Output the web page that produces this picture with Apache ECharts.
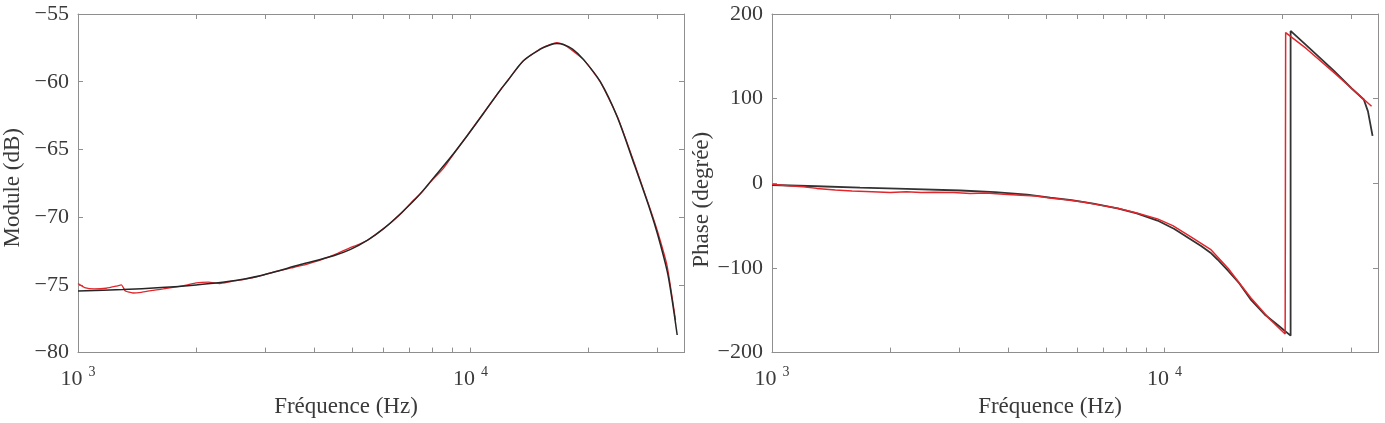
<!DOCTYPE html>
<html>
<head>
<meta charset="utf-8">
<script src="https://cdn.jsdelivr.net/npm/echarts@6/dist/echarts.min.js"></script>
<style>
  html, body { margin: 0; padding: 0; background: #fff; }
  #chart { width: 1385px; height: 423px; }
</style>
</head>
<body>
<div id="chart"></div>
<script>
// ---- Data ----
// Module (dB): fitted model (black)
const magFitFreq = [1000, 1300, 1630, 2000, 2410, 2930, 3690, 4480, 4950, 5470, 6010, 6630, 7330, 8050, 8890, 9830, 10790, 11920, 12420, 13640, 15070, 16000, 16600, 17300, 18200, 19390, 21420, 23660, 25990, 28710, 30000, 31720, 32600, 33630];
const magFitDb   = [-75.45, -75.35, -75.2, -75.0, -74.75, -74.3, -73.5, -72.85, -72.38, -71.7, -70.85, -69.75, -68.5, -67.1, -65.6, -63.95, -62.35, -60.6, -59.95, -58.45, -57.6, -57.27, -57.18, -57.27, -57.6, -58.35, -60.0, -62.6, -65.9, -69.5, -71.3, -74.0, -76.0, -78.7];
// Module (dB): measured (red)
const magMeasFreq = [1000, 1040, 1100, 1180, 1250, 1290, 1320, 1380, 1450, 1550, 1650, 1780, 1900, 2000, 2150, 2300, 2450, 2650, 2900, 3200, 3500, 3750, 4000, 4300, 4600, 4900, 5200, 5500, 5900, 6300, 6700, 7100, 7500, 8000, 8500, 9000, 9800, 10800, 12000, 13600, 15000, 16000, 16600, 17300, 19400, 21400, 23700, 26000, 28700, 30000, 31700, 33300];
const magMeasDb   = [-74.9, -75.2, -75.3, -75.25, -75.1, -75.0, -75.45, -75.6, -75.55, -75.4, -75.3, -75.15, -75.0, -74.85, -74.8, -74.9, -74.75, -74.6, -74.35, -74.0, -73.75, -73.55, -73.3, -73.0, -72.65, -72.3, -72.0, -71.65, -71.0, -70.35, -69.65, -68.85, -68.2, -67.25, -66.45, -65.45, -64.0, -62.3, -60.5, -58.5, -57.6, -57.25, -57.12, -57.25, -58.35, -60.0, -62.6, -65.8, -69.4, -71.1, -73.6, -77.6];
// Phase (degree): fitted model (black)
const phaseFitFreq = [1000, 1300, 1676, 2200, 3020, 3700, 4470, 5120, 5800, 6590, 7590, 8500, 9600, 10600, 11650, 12400, 13100, 13650, 14500, 15500, 16570, 18000, 19500, 20960, 20960, 23000, 27000, 30000, 32200, 33000, 33900];
const phaseFitDeg  = [-2, -3.5, -5, -6.5, -8.5, -10.5, -13.5, -17, -20, -24, -29.5, -35.5, -44, -54, -66, -74, -82, -90, -103, -118, -137, -155, -168, -180, 180, 163, 133, 112, 99, 85, 56];
// Phase (degree): measured (red)
const phaseMeasFreq = [1000, 1100, 1200, 1300, 1450, 1600, 1800, 2000, 2200, 2400, 2600, 2900, 3200, 3500, 3900, 4300, 4700, 5100, 5600, 6200, 6800, 7600, 8500, 9600, 10500, 11650, 13100, 14500, 16570, 18500, 20300, 20360, 23000, 27000, 30000, 33700];
const phaseMeasDeg  = [-1, -3, -4, -6, -8, -9, -10, -11, -10, -11, -10.5, -11, -12, -11.5, -13, -14, -15, -17.5, -19.5, -22, -25.5, -29.5, -35, -42, -50, -63, -78, -100, -135, -160, -178, 178, 159, 131, 112, 91];

// Axis ticks
const xTickValues  = [1000, 2000, 3000, 4000, 5000, 6000, 7000, 8000, 9000, 10000, 20000, 30000];
const xLabelValues = [1000, 10000];
const xRange = [1000, 35000];
const magRange = [-80, -55];
const magStep = 5;
const phaseRange = [-200, 200];
const phaseStep = 100;

const FONT = '"Liberation Serif", "DejaVu Serif", serif';
const TXT = '#3a3a3a';
const AXC = '#8f8f8f';

function yFmt(v) { return v < 0 ? '\u2212' + Math.abs(v) : String(v); }
function xFmt(v) {
  const e = Math.round(Math.log10(v));
  return '{b|10}{s|' + e + '}';
}
const zipXY = (xs, ys) => xs.map((x, i) => [x, ys[i]]);

function xAxisMain(gridIndex) {
  return {
    type: 'log', logBase: 10, gridIndex, position: 'bottom',
    min: xRange[0], max: xRange[1],
    name: 'Fréquence (Hz)', nameLocation: 'middle', nameGap: 34,
    nameTextStyle: { fontFamily: FONT, fontSize: 23, color: TXT, padding: [0, gridIndex === 0 ? 70 : 50, 0, 0] },
    axisLine: { show: true, onZero: false, lineStyle: { color: AXC, width: 1 } },
    axisTick: { show: true, inside: true, length: 5, lineStyle: { color: AXC }, customValues: xTickValues },
    axisLabel: {
      show: true, margin: 13, customValues: xLabelValues, formatter: xFmt,
      rich: {
        b: { fontFamily: FONT, fontSize: 22, color: TXT },
        s: { fontFamily: FONT, fontSize: 14, color: TXT, padding: [0, 0, 13, 6] }
      }
    },
    splitLine: { show: false }, minorTick: { show: false }
  };
}
function xAxisTop(gridIndex) {
  return {
    type: 'log', logBase: 10, gridIndex, position: 'top',
    min: xRange[0], max: xRange[1],
    axisLine: { show: true, onZero: false, lineStyle: { color: AXC, width: 1 } },
    axisTick: { show: true, inside: true, length: 5, lineStyle: { color: AXC }, customValues: xTickValues },
    axisLabel: { show: false, customValues: xLabelValues },
    splitLine: { show: false }
  };
}
function yAxisMain(gridIndex, range, step, name, pad) {
  return {
    type: 'value', gridIndex, position: 'left',
    min: range[0], max: range[1], interval: step,
    name, nameLocation: 'middle', nameGap: 54, nameRotate: 90,
    nameTextStyle: { fontFamily: FONT, fontSize: 23, color: TXT, padding: [0, pad, 0, 0] },
    axisLine: { show: true, onZero: false, lineStyle: { color: AXC, width: 1 } },
    axisTick: { show: true, inside: true, length: 5, lineStyle: { color: AXC } },
    axisLabel: { fontFamily: FONT, fontSize: 22, color: TXT, margin: 9, formatter: yFmt },
    splitLine: { show: false }
  };
}
function yAxisRight(gridIndex, range, step) {
  return {
    type: 'value', gridIndex, position: 'right',
    min: range[0], max: range[1], interval: step,
    axisLine: { show: true, onZero: false, lineStyle: { color: AXC, width: 1 } },
    axisTick: { show: true, inside: true, length: 5, lineStyle: { color: AXC } },
    axisLabel: { show: false },
    splitLine: { show: false }
  };
}

const chart = echarts.init(document.getElementById('chart'), null, { renderer: 'canvas' });
chart.setOption({
  backgroundColor: '#ffffff',
  animation: false,
  grid: [
    { left: 77, top: 14, width: 607, height: 349 },
    { left: 772, top: 14, width: 606, height: 349 }
  ],
  xAxis: [xAxisMain(0), xAxisTop(0), xAxisMain(1), xAxisTop(1)],
  yAxis: [
    yAxisMain(0, magRange, magStep, 'Module (dB)', 9),
    yAxisRight(0, magRange, magStep),
    yAxisMain(1, phaseRange, phaseStep, 'Phase (degrée)', 33),
    yAxisRight(1, phaseRange, phaseStep)
  ],
  series: [
    { name: 'Module mesuré', type: 'line', xAxisIndex: 0, yAxisIndex: 0, data: zipXY(magMeasFreq, magMeasDb),
      showSymbol: false, smooth: 0.15, lineStyle: { color: '#e3262b', width: 1.3 }, z: 2 },
    { name: 'Module modèle', type: 'line', xAxisIndex: 0, yAxisIndex: 0, data: zipXY(magFitFreq, magFitDb),
      showSymbol: false, smooth: 0.3, lineStyle: { color: '#262626', width: 1.5 }, z: 3 },
    { name: 'Phase modèle', type: 'line', xAxisIndex: 2, yAxisIndex: 2, data: zipXY(phaseFitFreq, phaseFitDeg),
      showSymbol: false, smooth: false, lineStyle: { color: '#333333', width: 1.8 }, z: 2 },
    { name: 'Phase mesurée', type: 'line', xAxisIndex: 2, yAxisIndex: 2, data: zipXY(phaseMeasFreq, phaseMeasDeg),
      showSymbol: false, smooth: false, lineStyle: { color: '#e3262b', width: 1.5 }, z: 3 }
  ]
});
</script>
</body>
</html>
